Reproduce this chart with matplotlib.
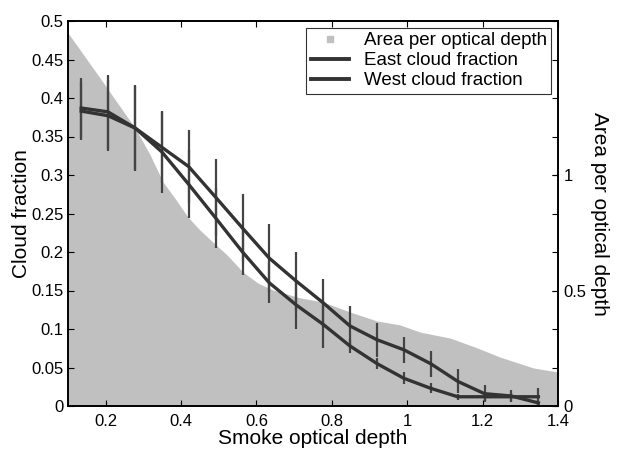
import matplotlib
matplotlib.use('Agg')
import matplotlib.pyplot as plt
from matplotlib.lines import Line2D

plt.rcParams['font.family'] = ['Liberation Sans', 'DejaVu Sans']

# smoke optical depth bins
tau = [0.135, 0.206, 0.278, 0.349, 0.420, 0.492, 0.563, 0.634, 0.706,
       0.777, 0.848, 0.920, 0.991, 1.062, 1.134, 1.205, 1.276, 1.348]

east_cf = [0.387, 0.382, 0.361, 0.336, 0.311, 0.271, 0.231, 0.192, 0.162,
           0.134, 0.104, 0.086, 0.073, 0.055, 0.032, 0.016, 0.013, 0.004]
east_err = [0.039, 0.048, 0.055, 0.046, 0.048, 0.050, 0.044, 0.044, 0.038,
            0.031, 0.026, 0.022, 0.017, 0.017, 0.0155, 0.011, 0.008, 0.004]

west_cf = [0.383, 0.377, 0.361, 0.330, 0.288, 0.244, 0.200, 0.160, 0.131,
           0.106, 0.078, 0.055, 0.036, 0.023, 0.012, 0.012, 0.012, 0.012]
west_err = [0.038, 0.046, 0.056, 0.053, 0.044, 0.039, 0.030, 0.026, 0.031,
            0.031, 0.009, 0.007, 0.008, 0.0065, 0.004, 0.005, 0.005, 0.012]

# area per optical depth (right axis)
area_tau = [0.100, 0.185, 0.278, 0.318, 0.352, 0.387, 0.418, 0.450, 0.490,
            0.522, 0.564, 0.604, 0.644, 0.716, 0.777, 0.848, 0.920, 0.981,
            1.034, 1.114, 1.180, 1.246, 1.334, 1.400]
area = [1.615, 1.420, 1.203, 1.087, 0.970, 0.892, 0.818, 0.762, 0.701,
        0.654, 0.580, 0.532, 0.502, 0.468, 0.450, 0.407, 0.368, 0.351,
        0.320, 0.294, 0.255, 0.212, 0.165, 0.147]

line_col = '#333333'
gray = '#c0c0c0'

fig = plt.figure(figsize=(6.19, 4.49), dpi=100)
ax = fig.add_axes([68/619, 43/449, 490/619, 385/449])
ax2 = ax.twinx()

ax2.fill_between(area_tau, 0, area, color=gray, lw=0)
ax2.set_ylim(0, 1.6667)
ax2.set_yticks([0, 0.5, 1])
ax2.set_yticklabels(['0', '0.5', '1'])
ax2.tick_params(direction='in', length=4, labelsize=12, pad=4)
ax2.set_ylabel('Area per optical depth', fontsize=15, rotation=270, labelpad=16)

ax.set_zorder(ax2.get_zorder() + 1)
ax.patch.set_visible(False)

ax.errorbar(tau, east_cf, yerr=east_err, color=line_col, lw=2.4,
            ecolor='#444444', elinewidth=1.6, capsize=0)
ax.errorbar(tau, west_cf, yerr=west_err, color=line_col, lw=2.4,
            ecolor='#444444', elinewidth=1.6, capsize=0)

ax.set_xlim(0.1, 1.4)
ax.set_ylim(0, 0.5)
ax.set_xticks([0.2, 0.4, 0.6, 0.8, 1.0, 1.2, 1.4])
ax.set_xticklabels(['0.2', '0.4', '0.6', '0.8', '1', '1.2', '1.4'])
yt = [0, 0.05, 0.1, 0.15, 0.2, 0.25, 0.3, 0.35, 0.4, 0.45, 0.5]
ax.set_yticks(yt)
ax.set_yticklabels(['0', '0.05', '0.1', '0.15', '0.2', '0.25', '0.3',
                    '0.35', '0.4', '0.45', '0.5'])
ax.tick_params(direction='in', length=4, labelsize=12, pad=3,
               top=True, right=True)
ax.tick_params(axis='x', pad=6)
ax.set_xlabel('Smoke optical depth', fontsize=15, labelpad=0)
ax.set_ylabel('Cloud fraction', fontsize=15, labelpad=0)

for a in (ax, ax2):
    for s in a.spines.values():
        s.set_linewidth(1.2)

handles = [Line2D([], [], marker='s', color=gray, ls='none', markersize=4),
           Line2D([], [], color=line_col, lw=2.8),
           Line2D([], [], color=line_col, lw=2.8)]
leg = ax.legend(handles, ['Area per optical depth', 'East cloud fraction',
                          'West cloud fraction'],
                loc='upper right', fontsize=13.5, fancybox=False, framealpha=1,
                edgecolor='#333333', borderaxespad=0.35, handlelength=2.0,
                labelspacing=0.15, borderpad=0.25, handletextpad=0.8)
leg.get_frame().set_linewidth(0.8)

fig.savefig('out.png', dpi=100)
